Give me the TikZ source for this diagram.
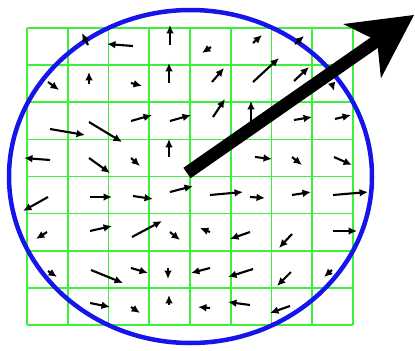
\documentclass[tikz,border=0pt]{standalone}
\usepackage{tikz}
\usetikzlibrary{arrows.meta}
\definecolor{gridgreen}{RGB}{60,240,60}
\definecolor{ringblue}{RGB}{20,20,235}

\begin{document}
\begin{tikzpicture}[x=0.025cm, y=-0.025cm]
    \useasboundingbox (0,0) rectangle (415,350);

    % 网格
    \foreach \i in {0,...,8} {
        \draw[gridgreen, line width=1.2pt] ({27+40.75*\i}, 28) -- ({27+40.75*\i}, 325);
        \draw[gridgreen, line width=1.2pt] (27, {28+37.125*\i}) -- (353, {28+37.125*\i});
    }

    % 椭圆
    \draw[ringblue, line width=3.2pt] (190.5, 176.5) ellipse [x radius=181.5, y radius=166.5];

    % 小箭头
    \foreach \xa/\ya/\xb/\yb in {
        88/45/82/33, 133/46/107/44, 170/45/170/25, 211/47/202/53, 253/43/262/35, 295/44/304/36,
        48/82/59/90, 89/84/89/72, 131/83/142/86, 169/83/169/63, 212/82/224/68, 253/82/279/58, 294/81/309/67, 332/84/334/91,
        50/129/85/135, 89/122/122/142, 131/121/152/115, 170/121/191/115, 213/117/225/99, 251/122/251/101, 294/120/312/117, 335/119/351/115,
        50/160/24/158, 89/158/110/173, 131/158/140/166, 169/157/169/139, 255/157/272/159, 292/157/302/165, 334/157/352/165,
        48/197/23/211, 90/197/112/197, 133/196/153/199, 170/192/193/186, 210/195/243/192, 250/197/265/198, 292/195/311/192, 333/195/368/192,
        47/232/36/239, 90/231/112/226, 132/237/162/221, 170/232/180/240, 210/232/200/228, 250/232/230/239, 292/234/279/248, 333/231/357/231,
        48/271/57/277, 91/270/123/283, 131/268/148/273, 168/268/168/279, 210/268/191/273, 253/269/228/277, 291/272/277/286, 332/270/324/277,
        90/303/110/307, 131/307/140/313, 169/305/169/295, 210/308/198/307, 250/305/228/302, 290/306/270/313}
        \draw[-{Latex[length=6pt, width=5.5pt]}, line width=1.5pt] (\xa, \ya) -- (\xb, \yb);

    % 大箭头
    \draw[-{Stealth[length=45pt, width=47pt, inset=13pt, line width=0pt]}, line width=9pt] (187, 173) -- (414, 15);
\end{tikzpicture}
\end{document}
